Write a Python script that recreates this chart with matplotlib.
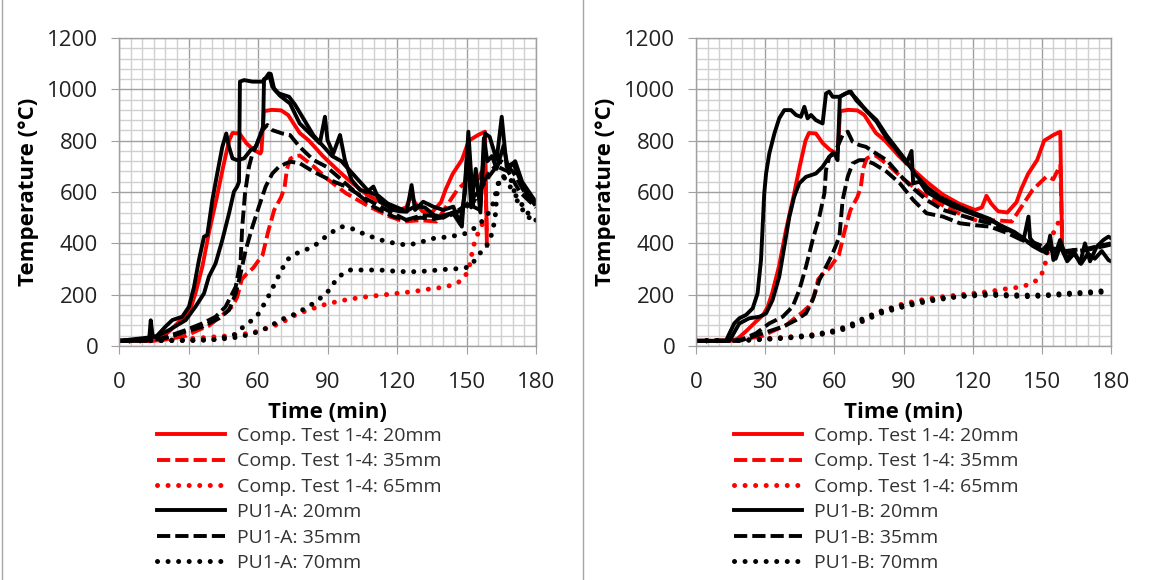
import matplotlib
matplotlib.use("Agg")
import matplotlib.pyplot as plt
from matplotlib.lines import Line2D
from matplotlib.ticker import MultipleLocator

plt.rcParams['font.family'] = ['Open Sans', 'DejaVu Sans']

# ---- data ----
# comparison test 1-4 (same in both panels)
comp20_t = [0, 15, 18, 22, 26, 29, 31, 33, 36, 39, 42, 45, 47.5, 49, 52, 55, 58, 61, 61.5, 62.5, 66, 70, 73,
            78, 82, 88, 95, 100, 107, 114, 121, 124, 126, 128, 131, 135, 139, 141, 144, 148, 151, 155, 158, 158.8]
comp20_T = [20, 20, 28, 60, 95, 120, 150, 205, 310, 450, 570, 700, 800, 830, 828, 790, 765, 750, 760, 915, 920, 918, 900,
            830, 800, 740, 680, 640, 590, 555, 530, 540, 585, 555, 525, 520, 560, 610, 670, 725, 800, 822, 835, 390]

comp35_t = [0, 18, 22, 29, 35, 39, 43, 46, 49, 51, 53, 55, 58, 62, 64.5, 67, 70, 71.5, 72.5, 74, 76, 78, 84, 90, 98,
            108, 117, 123, 130, 137, 141, 146, 152, 155, 158, 158.8]
comp35_T = [20, 22, 28, 40, 65, 80, 110, 130, 155, 190, 260, 280, 305, 355, 450, 530, 580, 620, 690, 730, 740, 742, 700,
            650, 595, 543, 504, 485, 490, 485, 540, 608, 660, 650, 705, 430]

comp65_t = [0, 20, 30, 45, 57, 65, 70, 77, 84, 90, 98, 105, 113, 120, 127, 134, 141, 146, 149, 151, 153, 155, 157, 158.5]
comp65_T = [20, 22, 28, 38, 50, 72, 90, 125, 147, 165, 180, 190, 198, 205, 212, 222, 230, 245, 265, 300, 390, 440, 478, 500]

# PU1-A
a20_1_t = [0, 12, 13, 13.7, 14.5, 16, 20, 23, 27.3, 30.2, 32.4, 34.5, 36.7, 38.1, 40.3, 42.4, 44.6, 46.3, 47.5, 49, 51, 54,
           56.8, 59, 61.2, 62.2, 62.6, 64, 65.5, 67, 69.5, 73.8, 78, 82.4, 86.7, 88.9, 90, 92.5, 95.4, 97.5, 100.4, 104,
           107, 109.8, 112.6, 115, 118.4, 121, 124.2, 126.3, 127.8, 131.3, 135.6, 140, 144.3, 147.2, 149.3, 150.8,
           152.9, 155.8, 158, 160, 163, 165.2, 167.3, 170.2, 173, 176, 180]
a20_1_T = [20, 20, 25, 100, 40, 36, 75, 101, 114, 153, 231, 335, 426, 432, 569, 672, 776, 828, 776, 731, 724, 731,
           763, 776, 828, 854, 1040, 1045, 1060, 1000, 975, 945, 867, 828, 790, 893, 802, 750, 822, 725, 647, 608,
           600, 621, 562, 550, 530, 525, 523, 627, 530, 562, 543, 530, 543, 478, 595, 835, 543, 530, 828, 815, 725,
           893, 700, 712, 650, 590, 556]
a20_2_t = [0, 15.8, 21.6, 28.8, 33, 36.7, 38.8, 41.7, 44.6, 47.5, 49.6, 51, 51.8, 52.2, 54, 57.6, 61.9, 63, 64.7,
           66.2, 69, 73.4, 76, 80, 84, 88, 92, 96, 100, 104, 108, 112, 116, 120, 124, 128, 132, 136, 140, 144, 148,
           150.5, 152, 154, 156, 157.5, 159, 161, 163, 166, 168, 171, 174, 177, 180]
a20_2_T = [20, 36, 62, 101, 153, 205, 270, 322, 413, 517, 601, 621, 640, 1030, 1036, 1030, 1030, 1040, 1062, 1010,
           984, 971, 940, 880, 820, 780, 740, 720, 680, 640, 600, 585, 555, 540, 525, 545, 540, 510, 500, 520, 465,
           780, 540, 690, 520, 810, 720, 740, 690, 780, 690, 720, 640, 600, 560]
a35_1_t = [0, 18.7, 28.8, 36, 41.7, 46, 50.4, 52.5, 53.2, 54.4, 56.1, 57.6, 59.7, 61.9, 64, 66.2, 70.5, 73.8, 78,
           83.9, 89.6, 95.4, 102.6, 109.8, 118.4, 124, 131, 138, 145, 150, 155, 160, 165, 170, 175, 180]
a35_1_T = [20, 30, 62, 88, 114, 153, 231, 335, 465, 595, 698, 750, 789, 841, 861, 841, 828, 822, 776, 725, 698, 653,
           595, 543, 504, 491, 510, 505, 520, 550, 600, 680, 720, 680, 600, 545]
a35_2_t = [0, 20, 28.8, 36, 43.2, 47.5, 50.4, 52.5, 54.7, 57.6, 60.4, 63.3, 66.2, 69, 72, 74, 78, 84, 91, 98, 105,
           117, 124, 130, 136, 142, 148, 153, 158, 163, 168, 173, 180]
a35_2_T = [20, 30, 56, 75, 108, 140, 205, 283, 374, 465, 543, 621, 672, 698, 711, 718, 712, 679, 647, 621, 582, 523,
           491, 500, 495, 505, 530, 560, 640, 700, 680, 600, 540]
a70_1_t = [0, 30, 42, 50, 53.7, 59.4, 63.7, 68, 72.4, 76.7, 83.9, 91, 96.1, 100.4, 106.9, 115.5, 124.2, 128.5, 135.7,
           142.9, 150, 154.4, 158.7, 161.5, 163.7, 166, 168.8, 171.6, 174.5, 176.6, 180]
a70_1_T = [20, 22, 25, 45, 75, 114, 179, 257, 335, 361, 387, 439, 465, 458, 432, 406, 393, 400, 419, 426, 439, 465,
           504, 556, 634, 660, 621, 582, 543, 517, 490]
a70_2_t = [0, 35, 45, 52, 60, 65, 69.5, 76.7, 83.9, 89.6, 94.7, 99.7, 106.9, 112.6, 119.8, 125.6, 133, 140, 148, 151.5,
           155.8, 160, 162.3, 163, 164.4, 168.8, 171.7, 176, 180]
a70_2_T = [20, 22, 28, 35, 55, 75, 101, 127, 166, 205, 270, 296, 296, 296, 291, 289, 292, 298, 302, 309, 361, 406,
           491, 582, 660, 660, 569, 504, 490]

# PU1-B
b20_1_t = [0, 13, 14.5, 16.6, 18.8, 21.7, 24.6, 26.7, 28.2, 28.9, 29.6, 30.4, 31.8, 34, 36.1, 38.3, 41.2, 43.4, 45.5,
           47, 48.4, 49.9, 52, 54.9, 56.4, 57.8, 59.3, 62.2, 66.5, 69.4, 73.7, 78.3, 82.7, 87, 91.3, 93.5, 94.2, 97.1,
           100, 105.8, 111.6, 117.4, 123.1, 127.5, 132, 138, 142, 144.2, 144.9, 148, 152.1, 153.6, 155, 157.9, 160.8,
           163.7, 166.6, 168.7, 170.9, 173.8, 176.7, 178.9, 180]
b20_1_T = [20, 20, 49, 88, 108, 121, 147, 205, 335, 465, 595, 672, 750, 828, 887, 919, 919, 900, 893, 932, 887, 900,
           880, 867, 984, 991, 971, 971, 991, 965, 919, 874, 809, 763, 711, 760, 634, 640, 601, 569, 543, 523, 504,
           491, 470, 440, 410, 504, 420, 385, 361, 430, 335, 413, 340, 374, 322, 400, 330, 387, 413, 426, 420]
b20_2_t = [0, 14.5, 18.8, 23.1, 27.5, 30.4, 33.2, 36.1, 38.3, 40.5, 42.6, 44.8, 47.7, 52, 54.9, 57.8, 60, 61.4, 62.4,
           65, 67.2, 69.4, 73.7, 78.3, 82.7, 87, 91.3, 95, 100, 105.8, 111.6, 117.4, 123.1, 127.5, 132, 138, 142, 146,
           150, 153, 156, 158, 161, 164, 167, 170, 173, 176, 178.9, 180]
b20_2_T = [20, 20, 88, 108, 114, 127, 179, 270, 387, 504, 582, 634, 659, 672, 698, 737, 750, 724, 971, 984, 991, 958,
           919, 880, 820, 770, 720, 670, 620, 580, 555, 530, 510, 495, 470, 445, 420, 390, 370, 400, 340, 390, 330,
           360, 320, 360, 340, 370, 335, 330]
b35_1_t = [0, 18.8, 26, 31.8, 37.6, 41.9, 44.8, 47.7, 50.6, 53.5, 55.7, 56.4, 57.8, 60.7, 63.6, 65.8, 67.9, 70.8,
           73.7, 76.9, 82.7, 88.4, 94.2, 100, 107.2, 114.5, 121.7, 127.5, 135, 142, 150, 160, 170, 180]
b35_1_T = [20, 22, 49, 88, 114, 153, 218, 309, 413, 504, 595, 686, 737, 763, 822, 835, 796, 783, 776, 757, 724, 666,
           614, 569, 530, 510, 491, 478, 450, 420, 390, 370, 380, 400]
b35_2_t = [0, 18.8, 28.9, 37.6, 43.4, 47.7, 50.6, 53.5, 56.4, 59.3, 62.2, 63.6, 65.8, 67.9, 70.8, 73, 76.9, 82.7,
           88.4, 94.2, 100, 107.2, 114.5, 121.7, 127.5, 135, 142, 150, 160, 170, 180]
b35_2_T = [20, 20, 49, 75, 101, 127, 179, 257, 309, 361, 426, 569, 659, 711, 724, 724, 711, 679, 634, 569, 517, 504,
           478, 470, 465, 440, 410, 385, 365, 375, 395]
b70_t = [0, 20, 35, 50, 60, 66, 72, 80, 90, 100, 109, 119, 127.5, 135, 145, 152, 160, 170, 180]
b70_1_T = [20, 22, 28, 38, 55, 70, 95, 127, 153, 173, 186, 199, 205, 200, 198, 199, 205, 210, 218]
b70_2_T = [20, 22, 30, 42, 60, 78, 105, 135, 160, 178, 190, 195, 198, 195, 192, 196, 200, 206, 212]

comp_labels = ["Comp. Test 1-4: 20mm", "Comp. Test 1-4: 35mm", "Comp. Test 1-4: 65mm"]
depth_labels = ["20mm", "35mm", "70mm"]

# ---- styles ----
LW = 2.8
solid = dict(linestyle='-', lw=LW)
dashed = dict(linestyle=(0, (3.4, 1.3)), dash_capstyle='butt', lw=LW)
dotted = dict(linestyle=(0, (0.01, 2.1)), dash_capstyle='round', lw=3.6)
RED = '#ff0000'
BLK = '#000000'

fig = plt.figure(figsize=(11.55, 5.8), dpi=100)
ax_l = fig.add_axes([119 / 1155, 1 - 346 / 580, 417 / 1155, 308 / 580])
ax_r = fig.add_axes([696 / 1155, 1 - 346 / 580, 415 / 1155, 308 / 580])


def draw_panel(ax, name, pu):
    ax.plot(comp20_t, comp20_T, color=RED, label=comp_labels[0], **solid)
    ax.plot(comp35_t, comp35_T, color=RED, label=comp_labels[1], **dashed)
    ax.plot(comp65_t, comp65_T, color=RED, label=comp_labels[2], **dotted)
    styles = [solid, dashed, dotted]
    for i, pair in enumerate(pu):
        for j, (t, T) in enumerate(pair):
            lab = f"{name}: {depth_labels[i]}" if j == 0 else None
            ax.plot(t, T, color=BLK, label=lab, **styles[i])

    ax.set_xlim(0, 180)
    ax.set_ylim(0, 1200)
    ax.xaxis.set_major_locator(MultipleLocator(30))
    ax.xaxis.set_minor_locator(MultipleLocator(5))
    ax.yaxis.set_major_locator(MultipleLocator(200))
    ax.yaxis.set_minor_locator(MultipleLocator(40))
    ax.grid(which='minor', color='#d0d0d0', lw=1.0)
    ax.grid(which='major', color='#a0a0a0', lw=1.0)
    ax.set_axisbelow(True)
    for s in ax.spines.values():
        s.set_color('#a0a0a0')
        s.set_linewidth(1.0)
    ax.tick_params(which='major', length=6, color='#a0a0a0', labelsize=16, labelcolor='#222222')
    ax.tick_params(axis='y', pad=9)
    ax.tick_params(axis='x', pad=13)
    ax.tick_params(which='minor', length=0)
    ax.set_xlabel("Time (min)", fontsize=16, fontweight='bold', labelpad=6)
    ax.set_ylabel("Temperature (°C)", fontsize=16, fontweight='bold', labelpad=6)

    leg = ax.legend(loc='upper left', bbox_to_anchor=(ax.get_position().x0 + 38 / 1155, 1 - 427 / 580),
                    bbox_transform=fig.transFigure, frameon=False, fontsize=14, handlelength=3.5,
                    handletextpad=0.6, labelspacing=0.38, borderpad=0, borderaxespad=0)
    for txt in leg.get_texts():
        txt.set_color('#333333')


draw_panel(ax_l, "PU1-A", [
    [(a20_1_t, a20_1_T), (a20_2_t, a20_2_T)],
    [(a35_1_t, a35_1_T), (a35_2_t, a35_2_T)],
    [(a70_1_t, a70_1_T), (a70_2_t, a70_2_T)],
])
draw_panel(ax_r, "PU1-B", [
    [(b20_1_t, b20_1_T), (b20_2_t, b20_2_T)],
    [(b35_1_t, b35_1_T), (b35_2_t, b35_2_T)],
    [(b70_t, b70_1_T), (b70_t, b70_2_T)],
])

# chart borders
fig.add_artist(Line2D([1.5 / 1155, 1.5 / 1155], [0, 1], color='#a6a6a6', lw=1))
fig.add_artist(Line2D([583 / 1155, 583 / 1155], [0, 1], color='#a6a6a6', lw=1))

fig.savefig("out.png", dpi=100)
